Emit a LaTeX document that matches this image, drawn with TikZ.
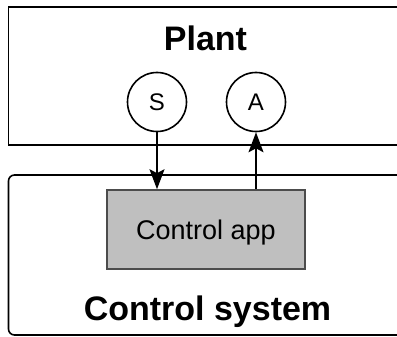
\documentclass[tikz,border=0pt]{standalone}
\usepackage{fontspec}
\setmainfont{Liberation Sans}
\usetikzlibrary{arrows.meta}
\begin{document}
\begin{tikzpicture}[x=1pt,y=-1pt,
  box/.style={draw=black,line width=1.6pt},
  circ/.style={circle,draw=black,line width=1.6pt,minimum size=59pt,inner sep=0pt,font=\fontsize{24}{26}\selectfont},
  appbox/.style={draw=black!70,fill=black!25,line width=1.6pt},
  title/.style={font=\fontsize{34}{40}\selectfont\bfseries,anchor=base,inner sep=0pt},
  conn/.style={line width=1.6pt,-{Stealth[length=20pt,width=15pt,inset=4pt]}}]
\useasboundingbox (0,0) rectangle (397,337);
\fill[white] (0,0) rectangle (397,337);
\clip (0,0) rectangle (397,337);
% Plant box
\draw[box] (410,7) -- (8.5,7) -- (8.5,145) -- (410,145);
\node[title] (plant) at (205.5,51) {Plant};
% Control system box
\draw[box,rounded corners=6pt] (410,175) -- (8.5,175) -- (8.5,335) -- (410,335);
\node[title] (cs) at (207.5,320) {Control system};
% circles
\node[circ] (S) at (157,102) {S};
\node[circ] (A) at (256,102) {A};
% control app
\node[appbox,minimum width=198pt,minimum height=79pt,inner sep=0pt] (app) at (206,229.5) {};
\node[anchor=base,inner sep=0pt,font=\fontsize{27}{30}\selectfont] (apptext) at (206,240) {Control app};
% connectors
\draw[conn] (S.south) -- (S.south |- app.north);
\draw[conn] (A.south |- app.north) -- (A.south);
\end{tikzpicture}
\end{document}
